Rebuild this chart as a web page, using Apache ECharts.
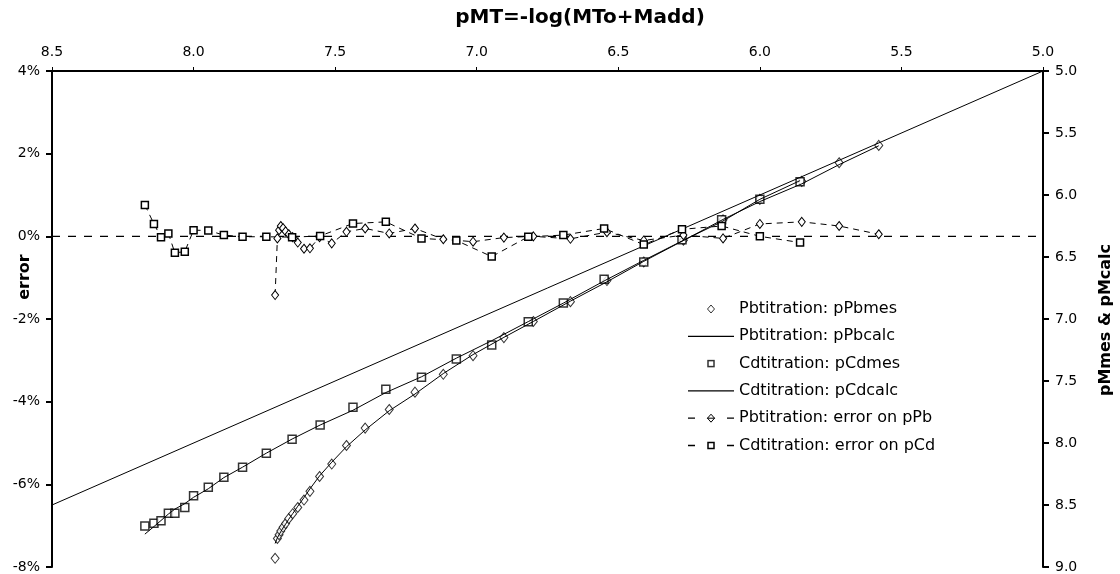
<!DOCTYPE html>
<html><head><meta charset="utf-8">
<script src="https://cdn.jsdelivr.net/npm/echarts@6/dist/echarts.min.js"></script>
<style>html,body{margin:0;padding:0;background:#fff}#c{width:1120px;height:574px}</style>
</head><body><div id="c"></div>
<script>
// Pb titration
const pbX    = [7.712,7.704,7.698,7.692,7.684,7.675,7.664,7.650,7.632,7.610,7.589,7.555,7.512,7.460,7.394,7.309,7.218,7.118,7.013,6.904,6.800,6.669,6.540,6.410,6.270,6.130,6.000,5.852,5.720,5.580];
const pbMes  = [8.93,8.77,8.74,8.71,8.68,8.65,8.61,8.57,8.52,8.46,8.39,8.27,8.17,8.02,7.88,7.73,7.59,7.446,7.296,7.15,7.02,6.86,6.69,6.54,6.365,6.20,6.035,5.89,5.74,5.60];
const pbCalc = [8.81,8.765,8.74,8.715,8.685,8.655,8.615,8.57,8.51,8.44,8.37,8.265,8.155,8.03,7.895,7.74,7.605,7.44,7.287,7.148,7.02,6.856,6.70,6.535,6.367,6.197,6.053,5.91,5.755,5.603];
const pbErr  = [-1.42,-0.05,0.15,0.25,0.20,0.12,0.05,-0.02,-0.15,-0.30,-0.29,-0.02,-0.17,0.11,0.19,0.07,0.19,-0.07,-0.13,-0.03,0.00,-0.06,0.10,-0.10,0.03,-0.05,0.30,0.35,0.25,0.05];
// Cd titration
const cdX    = [8.172,8.140,8.115,8.089,8.066,8.031,8.000,7.948,7.893,7.827,7.743,7.652,7.553,7.437,7.321,7.195,7.072,6.947,6.818,6.694,6.550,6.410,6.275,6.135,6.000,5.858];
const cdMes  = [8.669,8.648,8.627,8.567,8.567,8.521,8.425,8.357,8.277,8.196,8.083,7.970,7.855,7.712,7.567,7.470,7.323,7.210,7.022,6.87,6.68,6.54,6.36,6.20,6.035,5.893];
const cdCalc = [8.735,8.674,8.625,8.573,8.533,8.489,8.438,8.369,8.279,8.195,8.082,7.968,7.855,7.736,7.593,7.466,7.316,7.175,7.021,6.872,6.693,6.527,6.371,6.216,6.035,5.884];
const cdErr  = [0.76,0.30,-0.02,0.07,-0.40,-0.37,0.15,0.14,0.03,-0.01,-0.01,-0.02,0.01,0.31,0.35,-0.05,-0.10,-0.49,-0.01,0.03,0.19,-0.20,0.17,0.25,0.00,-0.15];
// reference lines
const refX  = [8.5, 5.0];
const refY  = [8.5, 5.0];
const zeroX = [8.5, 5.0];
const zeroY = [0, 0];
const seriesNames = ['Pbtitration: pPbmes','Pbtitration: pPbcalc','Cdtitration: pCdmes','Cdtitration: pCdcalc','Pbtitration: error on pPb','Cdtitration: error on pCd'];

function pairs(xs, ys){ return xs.map((x,i)=>[x, ys[i]]); }
function svgIcon(shape){
  const svg = "<svg xmlns='http://www.w3.org/2000/svg' width='46' height='10' viewBox='0 0 46 10'>" + shape + "</svg>";
  return 'image://data:image/svg+xml;charset=utf-8,' + encodeURIComponent(svg);
}
const diamondIcon = svgIcon("<path d='M23 1 L26.5 5 L23 9 L19.5 5 Z' fill='white' stroke='black' stroke-width='1'/>");
const rectIcon = svgIcon("<rect x='20' y='2' width='6' height='6' fill='white' stroke='black' stroke-width='1.5'/>");
const lineIcon = svgIcon("<line x1='0' y1='5' x2='46' y2='5' stroke='black' stroke-width='1.3'/>");
const pbErrIcon = svgIcon("<line x1='0' y1='5' x2='7' y2='5' stroke='black' stroke-width='1.3'/><line x1='39' y1='5' x2='46' y2='5' stroke='black' stroke-width='1.3'/><path d='M23 1 L26.5 5 L23 9 L19.5 5 Z' fill='white' stroke='black' stroke-width='1'/><line x1='19' y1='5' x2='27' y2='5' stroke='black' stroke-width='1'/>");
const cdErrIcon = svgIcon("<line x1='0' y1='5' x2='7' y2='5' stroke='black' stroke-width='1.3'/><line x1='39' y1='5' x2='46' y2='5' stroke='black' stroke-width='1.3'/><rect x='20' y='2' width='6' height='6' fill='white' stroke='black' stroke-width='1.5'/>");

const F = 'DejaVu Sans';
const chart = echarts.init(document.getElementById('c'), null, {renderer:'canvas'});
const hollow = {color:'#fff', borderColor:'#000', borderWidth:1};
const option = {
  animation:false,
  backgroundColor:'#fff',
  grid:{left:52, right:77, top:71, bottom:7},
  title:{text:'pMT=-log(MTo+Madd)', left:575, textAlign:'center', top:3,
    textStyle:{fontFamily:F, fontWeight:'bold', fontSize:20, color:'#000'}},
  legend:{orient:'vertical', left:683, top:296, itemWidth:46, itemHeight:10, itemGap:11.3,
    data:[
      {name:seriesNames[0], icon:diamondIcon},
      {name:seriesNames[1], icon:lineIcon},
      {name:seriesNames[2], icon:rectIcon},
      {name:seriesNames[3], icon:lineIcon},
      {name:seriesNames[4], icon:pbErrIcon},
      {name:seriesNames[5], icon:cdErrIcon}
    ],
    textStyle:{fontFamily:F, fontSize:16, color:'#000'}},
  xAxis:{type:'value', position:'top', inverse:true, min:5, max:8.5, interval:0.5,
    axisLine:{onZero:false, lineStyle:{color:'#000', width:2}},
    axisTick:{length:4, lineStyle:{color:'#000'}},
    axisLabel:{margin:12, fontFamily:F, fontSize:14, color:'#000', formatter:v=>v.toFixed(1)},
    splitLine:{show:false}},
  yAxis:[
    {type:'value', position:'left', min:-8, max:4, interval:2,
      axisLine:{show:true, onZero:false, lineStyle:{color:'#000', width:2}},
      axisTick:{show:true, length:6, lineStyle:{color:'#000', width:2}},
      axisLabel:{margin:12, fontFamily:F, fontSize:14, color:'#000', formatter:v=>v+'%'},
      splitLine:{show:false}},
    {type:'value', position:'right', inverse:true, min:5, max:9, interval:0.5,
      axisLine:{show:true, onZero:false, lineStyle:{color:'#000', width:2}},
      axisTick:{show:true, length:6, lineStyle:{color:'#000', width:2}},
      axisLabel:{margin:12, fontFamily:F, fontSize:14, color:'#000', formatter:v=>v.toFixed(1)},
      splitLine:{show:false}}
  ],
  graphic:[
    {type:'text', x:25, y:277, rotation:Math.PI/2,
      style:{text:'error', fontFamily:F, fontWeight:'bold', fontSize:16, fill:'#000', textAlign:'center', textVerticalAlign:'middle'}},
    {type:'text', x:1106, y:320, rotation:Math.PI/2,
      style:{text:'pMmes & pMcalc', fontFamily:F, fontWeight:'bold', fontSize:16, fill:'#000', textAlign:'center', textVerticalAlign:'middle'}}
  ],
  series:[
    {name:'zero', type:'line', yAxisIndex:0, data:pairs(zeroX, zeroY), symbol:'none',
      lineStyle:{color:'#000', width:1.2, type:[8,8]}, silent:true},
    {name:'pMT', type:'line', yAxisIndex:1, data:pairs(refX, refY), symbol:'none',
      lineStyle:{color:'#000', width:1}, silent:true},
    {name:seriesNames[1], type:'line', yAxisIndex:1, data:pairs(pbX, pbCalc), symbol:'none',
      lineStyle:{color:'#000', width:1}, itemStyle:{color:'#000'}},
    {name:seriesNames[3], type:'line', yAxisIndex:1, data:pairs(cdX, cdCalc), symbol:'none',
      lineStyle:{color:'#000', width:1}, itemStyle:{color:'#000'}},
    {name:seriesNames[4], type:'line', yAxisIndex:0, data:pairs(pbX, pbErr), symbol:'diamond', symbolSize:[7,9], showSymbol:true,
      lineStyle:{color:'#000', width:1, type:[6,5]}, itemStyle:hollow},
    {name:seriesNames[5], type:'line', yAxisIndex:0, data:pairs(cdX, cdErr), symbol:'rect', symbolSize:7, showSymbol:true,
      lineStyle:{color:'#000', width:1, type:[6,5]}, itemStyle:{color:'#fff', borderColor:'#000', borderWidth:1.5}},
    {name:seriesNames[0], type:'scatter', yAxisIndex:1, data:pairs(pbX, pbMes), symbol:'diamond', symbolSize:[8,10],
      itemStyle:hollow},
    {name:seriesNames[2], type:'scatter', yAxisIndex:1, data:pairs(cdX, cdMes), symbol:'rect', symbolSize:8,
      itemStyle:{color:'#fff', borderColor:'#000', borderWidth:1.5}}
  ]
};
chart.setOption(option);
</script></body></html>
